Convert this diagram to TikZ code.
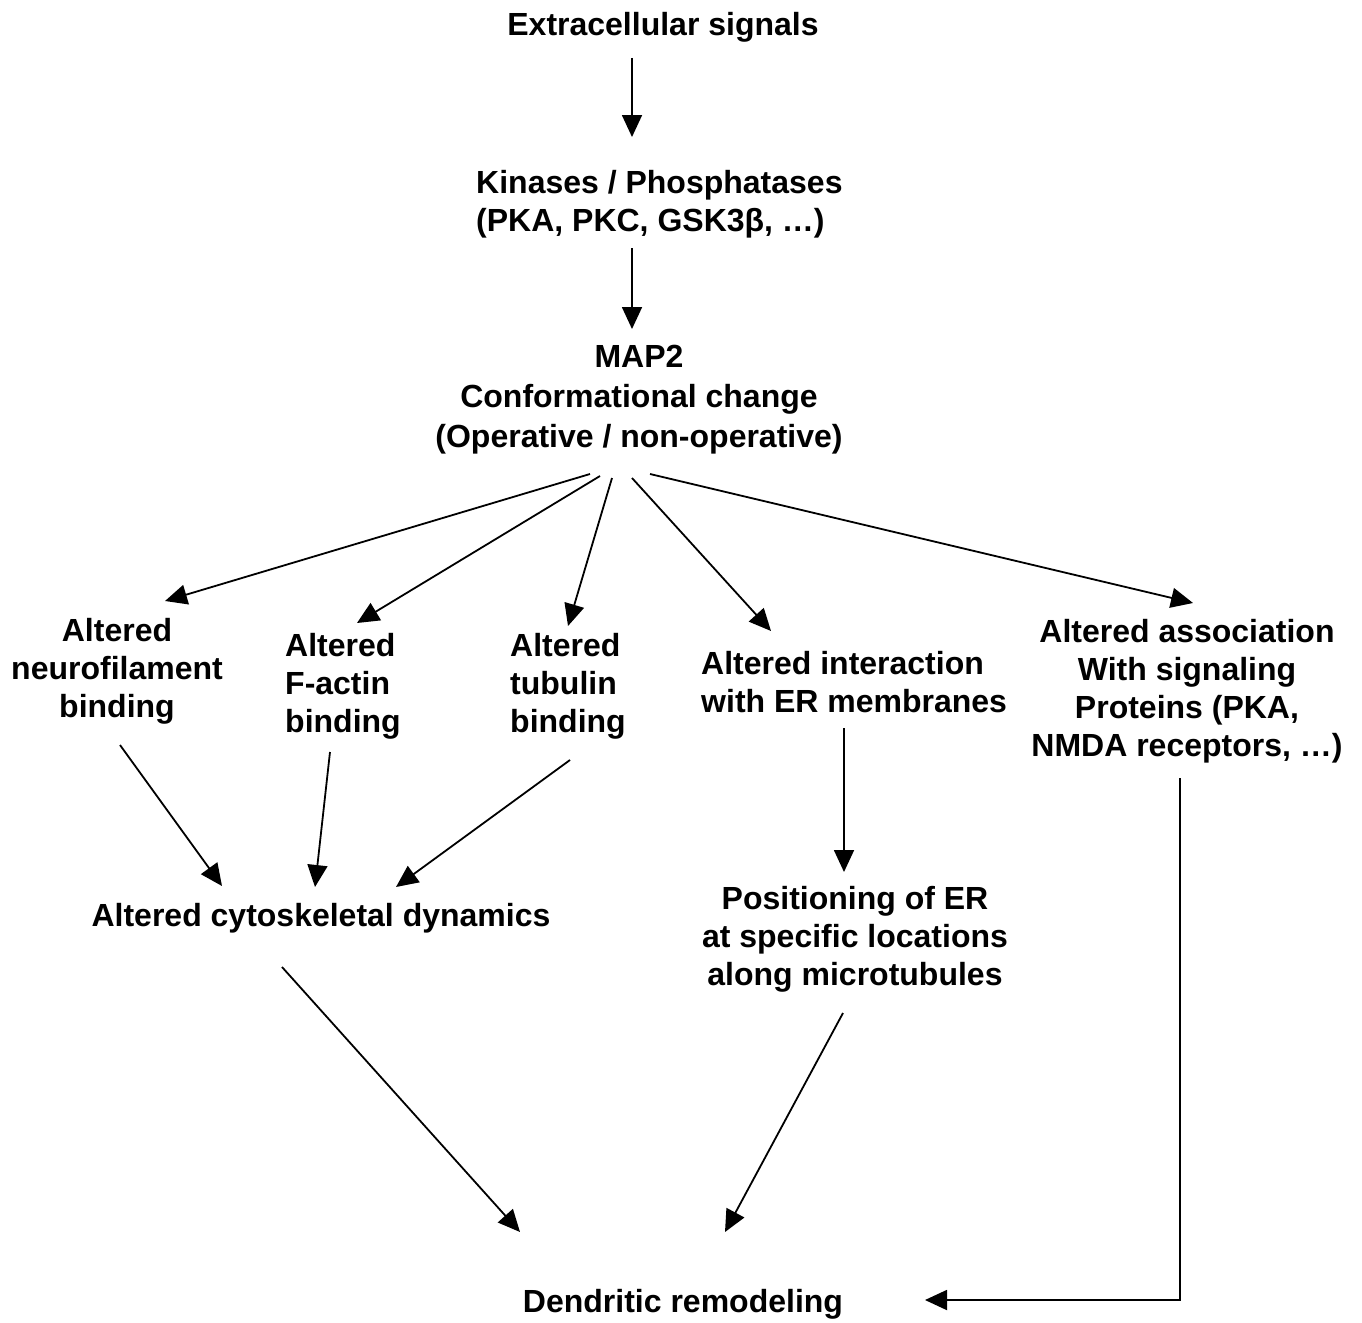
\documentclass[tikz,border=0pt]{standalone}
\usepackage{fontspec}
\setmainfont{Liberation Sans}
\usetikzlibrary{arrows.meta,calc}
\begin{document}
\begin{tikzpicture}[x=1pt,y=-1pt,
  lbl/.style={inner sep=0pt,font=\fontsize{32}{38}\selectfont\bfseries},
  arr/.style={line width=1.8pt,-{Triangle[length=22pt,width=20pt]}}]
\useasboundingbox[fill=white] (0,0) rectangle (1362,1322);

% pathway steps
\node[lbl] (ext) at (663,27) {Extracellular signals};
\node[lbl,align=left,anchor=west] (kin) at (476,204) {Kinases / Phosphatases\\(PKA, PKC, GSK3β, …)};
\node[lbl,align=center,font=\fontsize{32}{40}\selectfont\bfseries] (map) at (639,400) {MAP2\\Conformational change\\(Operative / non-operative)};

\node[lbl,align=center] (nf) at (117,671) {Altered\\neurofilament\\binding};
\node[lbl,align=left,anchor=west] (fa) at (285,686) {Altered\\F-actin\\binding};
\node[lbl,align=left,anchor=west] (tb) at (510,686) {Altered\\tubulin\\binding};
\node[lbl,align=left,anchor=west] (er) at (701,682) {Altered interaction\\with ER membranes};
\node[lbl,align=center] (sig) at (1187,691) {Altered association\\With signaling\\Proteins (PKA,\\NMDA receptors, …)};

\node[lbl] (cyto) at (321,918) {Altered cytoskeletal dynamics};
\node[lbl,align=center] (pos) at (855,939) {Positioning of ER\\at specific locations\\along microtubules};
\node[lbl] (dend) at (683,1304) {Dendritic remodeling};

% signalling cascade
\draw[arr] ($(ext)+(-31,31)$) -- ($(kin.west)+(156,-67)$);
\draw[arr] ($(kin.west)+(156,44)$) -- ($(map)+(-7,-71)$);

% MAP2 targets
\draw[arr] ($(map)+(-49,74)$) -- ($(nf)+(48,-70)$);
\draw[arr] ($(map)+(-39,76)$) -- ($(fa.west)+(72,-63)$);
\draw[arr] ($(map)+(-27,78)$) -- ($(tb.west)+(58,-60)$);
\draw[arr] ($(map)+(-7,78)$) -- ($(er.west)+(70,-51)$);
\draw[arr] ($(map)+(11,74)$) -- ($(sig)+(6,-88)$);

% convergence on cytoskeleton
\draw[arr] ($(nf)+(3,74)$) -- ($(cyto)+(-99,-32)$);
\draw[arr] ($(fa.west)+(45,66)$) -- ($(cyto)+(-6,-31)$);
\draw[arr] ($(tb.west)+(60,74)$) -- ($(cyto)+(75,-31)$);

% ER branch
\draw[arr] ($(er.west)+(143,46)$) -- ($(pos)+(-11,-67)$);

% outcome
\draw[arr] ($(cyto)+(-39,49)$) -- ($(dend)+(-163,-72)$);
\draw[arr] ($(pos)+(-12,74)$) -- ($(dend)+(42,-72)$);
\coordinate (corner) at ($(sig)+(-7,609)$);
\draw[arr] ($(sig)+(-7,87)$) -- (corner) -- ($(dend)+(242,-4)$);
\end{tikzpicture}
\end{document}
